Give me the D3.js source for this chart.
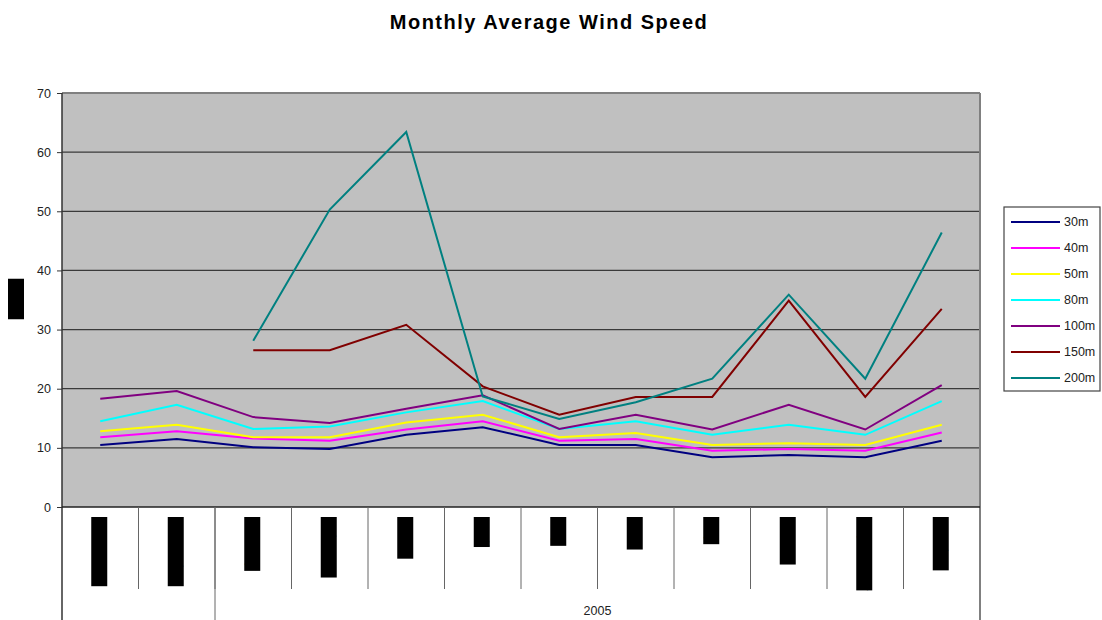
<!DOCTYPE html>
<html>
<head>
<meta charset="utf-8">
<script src="https://cdn.jsdelivr.net/npm/d3@7"></script>
<style>
  body { margin: 0; background: #fff; }
  text { font-family: "Liberation Sans", Arial, sans-serif; }
</style>
</head>
<body>
<div id="chart"></div>
<script>
// categories: months, grouped by year
const months = ["November", "December", "January", "February", "March", "April",
                "May", "June", "July", "August", "September", "October"];
const yearGroups = ["", "2005"];
const yearSpans = [2, 10];

// series (m/sec) per height
const seriesNames = ["30m", "40m", "50m", "80m", "100m", "150m", "200m"];
const seriesColors = ["#000080", "#FF00FF", "#FFFF00", "#00FFFF", "#800080", "#800000", "#008080"];
const s30  = [10.5, 11.5, 10.1, 9.8, 12.2, 13.5, 10.5, 10.5, 8.4, 8.8, 8.4, 11.2];
const s40  = [11.8, 12.8, 11.6, 11.2, 13.1, 14.5, 11.2, 11.5, 9.5, 9.8, 9.5, 12.6];
const s50  = [12.8, 13.9, 11.8, 11.8, 14.3, 15.6, 11.8, 12.5, 10.5, 10.8, 10.5, 13.9];
const s80  = [14.5, 17.3, 13.2, 13.6, 16.0, 17.9, 13.2, 14.5, 12.2, 13.9, 12.2, 17.9];
const s100 = [18.3, 19.6, 15.2, 14.2, 16.6, 18.9, 13.2, 15.6, 13.1, 17.3, 13.1, 20.6];
const s150 = [null, null, 26.5, 26.5, 30.8, 20.4, 15.6, 18.6, 18.6, 34.9, 18.6, 33.5];
const s200 = [null, null, 28.1, 50.3, 63.4, 18.7, 14.9, 17.7, 21.7, 35.9, 21.7, 46.4];
const allSeries = [s30, s40, s50, s80, s100, s150, s200];

const yTicks = [0, 10, 20, 30, 40, 50, 60, 70];

const width = 1102, height = 620;
const margin = { top: 93, right: 122, bottom: 113, left: 62 };
const innerW = width - margin.left - margin.right;
const innerH = height - margin.top - margin.bottom;

const svg = d3.select("#chart").append("svg")
    .attr("width", width)
    .attr("height", height);

// Title
svg.append("text")
    .attr("x", 549).attr("y", 29)
    .attr("text-anchor", "middle")
    .attr("font-size", 20).attr("font-weight", "bold")
    .attr("letter-spacing", 1.5)
    .attr("fill", "#000")
    .text("Monthly Average Wind Speed");

const g = svg.append("g").attr("transform", `translate(${margin.left},${margin.top})`);

const x = d3.scaleBand().domain(d3.range(months.length)).range([0, innerW]);
const y = d3.scaleLinear().domain([0, 70]).range([innerH, 0]);

// plot background
g.append("rect")
    .attr("width", innerW).attr("height", innerH)
    .attr("fill", "#C0C0C0");

// gridlines
g.selectAll(".grid").data(yTicks.filter(d => d > 0 && d < 70)).join("line")
    .attr("x1", 0).attr("x2", innerW)
    .attr("y1", d => y(d)).attr("y2", d => y(d))
    .attr("stroke", "#3a3a3a").attr("stroke-width", 1.2);

// top and right border
g.append("line").attr("x1", 0).attr("x2", innerW).attr("y1", y(70)).attr("y2", y(70))
    .attr("stroke", "#808080").attr("stroke-width", 2);
g.append("line").attr("x1", innerW).attr("x2", innerW).attr("y1", 0).attr("y2", height - margin.top)
    .attr("stroke", "#808080").attr("stroke-width", 2);

// y axis
const yAxis = g.append("g").call(d3.axisLeft(y).tickValues(yTicks).tickSize(5).tickPadding(6));
yAxis.select(".domain").remove();
yAxis.selectAll(".tick line").attr("stroke", "#333");
yAxis.selectAll(".tick text").attr("font-size", 12.5).attr("fill", "#222")
    .attr("font-family", "Liberation Sans, Arial, sans-serif");
g.append("line").attr("x1", 0).attr("x2", 0).attr("y1", 0).attr("y2", height - margin.top)
    .attr("stroke", "#333").attr("stroke-width", 1.5);

// x axis baseline
g.append("line").attr("x1", 0).attr("x2", innerW).attr("y1", y(0)).attr("y2", y(0))
    .attr("stroke", "#222").attr("stroke-width", 1.5);

// category separators below the axis
g.selectAll(".cat-sep").data(d3.range(1, months.length)).join("line")
    .attr("x1", d => x(d)).attr("x2", d => x(d))
    .attr("y1", innerH).attr("y2", innerH + 82)
    .attr("stroke", "#666").attr("stroke-width", 1);

// year group separators and labels
let acc = 0;
const groupStarts = yearSpans.map(s => { const v = acc; acc += s; return v; });
g.selectAll(".grp-sep").data(groupStarts.slice(1)).join("line")
    .attr("x1", d => x(d)).attr("x2", d => x(d))
    .attr("y1", innerH).attr("y2", height - margin.top)
    .attr("stroke", "#666").attr("stroke-width", 1);
g.selectAll(".grp-label").data(yearGroups).join("text")
    .attr("x", (d, i) => x(groupStarts[i]) + x.bandwidth() * yearSpans[i] / 2)
    .attr("y", innerH + 108)
    .attr("text-anchor", "middle")
    .attr("font-size", 12.5).attr("fill", "#222")
    .text(d => d);

// month labels (rotated, drawn as solid blocks like in the reference)
const monthG = g.selectAll(".month").data(months).join("g")
    .attr("transform", (d, i) => `translate(${x(i) + x.bandwidth() / 2 - 1},${innerH + 10}) rotate(90)`);
monthG.append("text")
    .attr("font-size", 15)
    .attr("dominant-baseline", "middle")
    .attr("fill", "#000")
    .text(d => d);
monthG.each(function () {
    const t = d3.select(this).select("text");
    const bb = t.node().getBBox();
    d3.select(this).insert("rect", "text")
        .attr("x", 0).attr("y", -8)
        .attr("width", bb.width).attr("height", 16)
        .attr("fill", "#000");
});

// y axis title, also drawn as a block
const yTitle = svg.append("g").attr("transform", "translate(16,299) rotate(-90)");
yTitle.append("text")
    .attr("font-size", 15).attr("text-anchor", "middle")
    .attr("dominant-baseline", "middle").attr("fill", "#000")
    .text("m/sec");
{
    const bb = yTitle.select("text").node().getBBox();
    yTitle.insert("rect", "text")
        .attr("x", -bb.width / 2).attr("y", -8)
        .attr("width", bb.width).attr("height", 16)
        .attr("fill", "#000");
}

// series lines
const line = d3.line()
    .defined(d => d != null)
    .x((d, i) => x(i) + x.bandwidth() / 2)
    .y(d => y(d));

g.selectAll(".series").data(allSeries).join("path")
    .attr("d", d => line(d))
    .attr("fill", "none")
    .attr("stroke", (d, i) => seriesColors[i])
    .attr("stroke-width", 2);

// legend
const legend = svg.append("g").attr("transform", "translate(1004,207)");
legend.append("rect")
    .attr("width", 96).attr("height", 184)
    .attr("fill", "#fff").attr("stroke", "#444").attr("stroke-width", 1.2);
const items = legend.selectAll(".item").data(seriesNames).join("g")
    .attr("transform", (d, i) => `translate(0,${15 + i * 26})`);
items.append("line")
    .attr("x1", 7).attr("x2", 56)
    .attr("stroke", (d, i) => seriesColors[i]).attr("stroke-width", 2);
items.append("text")
    .attr("x", 60).attr("dy", "0.35em")
    .attr("font-size", 12.5).attr("fill", "#222")
    .text(d => d);
</script>
</body>
</html>
